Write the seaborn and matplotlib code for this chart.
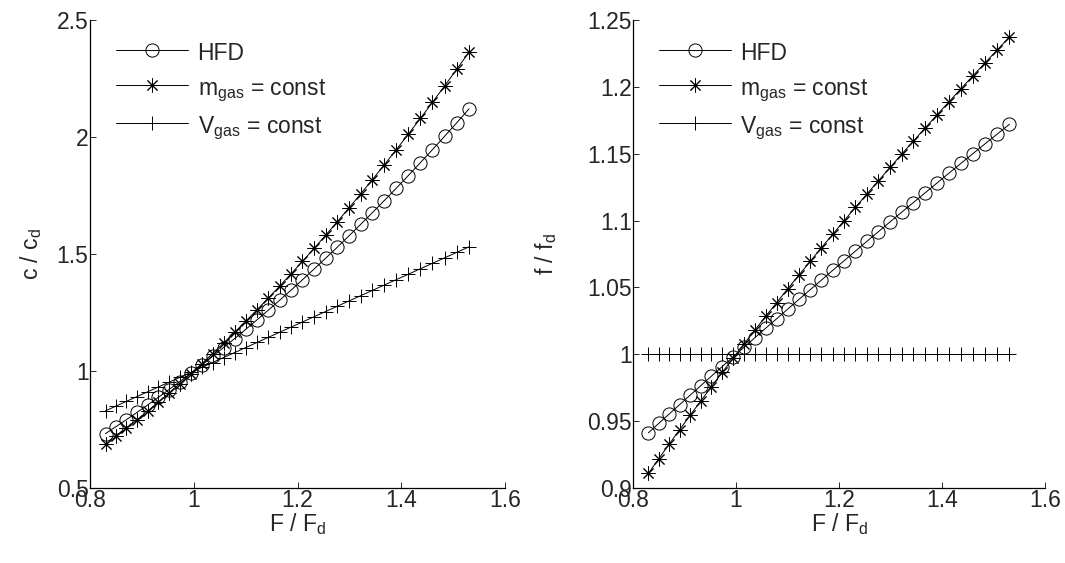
import numpy as np
import pandas as pd
import matplotlib
matplotlib.use('Agg')
import matplotlib.pyplot as plt
import seaborn as sns

# F / F_d sample points (spacing widens a bit to the right)
ratio_F = [0.830, 0.8501, 0.8703, 0.8906, 0.9111, 0.9317, 0.9523, 0.9731, 0.9941,
           1.0151, 1.0362, 1.0575, 1.0789, 1.1004, 1.1220, 1.1437, 1.1655, 1.1875,
           1.2096, 1.2318, 1.2541, 1.2765, 1.2990, 1.3217, 1.3444, 1.3673, 1.3903,
           1.4135, 1.4367, 1.4600, 1.4835, 1.5071, 1.5308]

# left panel: c / c_d
c_hfd = [0.7327, 0.7622, 0.7922, 0.8230, 0.8547, 0.8873, 0.9206, 0.9548, 0.9900,
         1.0258, 1.0627, 1.1004, 1.1388, 1.1783, 1.2187, 1.2600, 1.3023, 1.3456,
         1.3899, 1.4354, 1.4817, 1.5287, 1.5771, 1.6266, 1.6768, 1.7284, 1.7810,
         1.8352, 1.8899, 1.9457, 2.0030, 2.0612, 2.1206]
c_mgas = [0.6864, 0.7204, 0.7553, 0.7914, 0.8286, 0.8669, 0.9060, 0.9464, 0.9881,
          1.0307, 1.0745, 1.1196, 1.1658, 1.2132, 1.2618, 1.3115, 1.3626, 1.4151,
          1.4687, 1.5236, 1.5799, 1.6375, 1.6962, 1.7566, 1.8181, 1.8812, 1.9456,
          2.0118, 2.0791, 2.1477, 2.2182, 2.2900, 2.3633]
c_vgas = [0.830, 0.8501, 0.8703, 0.8906, 0.9111, 0.9317, 0.9523, 0.9731, 0.9941,
          1.0151, 1.0362, 1.0575, 1.0789, 1.1004, 1.1220, 1.1437, 1.1655, 1.1875,
          1.2096, 1.2318, 1.2541, 1.2765, 1.2990, 1.3217, 1.3444, 1.3673, 1.3903,
          1.4135, 1.4367, 1.4600, 1.4835, 1.5071, 1.5308]

# right panel: f / f_d
f_hfd = [0.9413, 0.9484, 0.9554, 0.9624, 0.9695, 0.9766, 0.9837, 0.9908, 0.9980,
         1.0051, 1.0123, 1.0195, 1.0266, 1.0338, 1.0410, 1.0482, 1.0554, 1.0627,
         1.0699, 1.0772, 1.0845, 1.0917, 1.0990, 1.1063, 1.1135, 1.1208, 1.1281,
         1.1355, 1.1428, 1.1501, 1.1574, 1.1647, 1.1720]
f_mgas = [0.9110, 0.9220, 0.9329, 0.9437, 0.9545, 0.9652, 0.9759, 0.9865, 0.9970,
          1.0075, 1.0179, 1.0284, 1.0387, 1.0490, 1.0592, 1.0694, 1.0796, 1.0897,
          1.0998, 1.1099, 1.1199, 1.1298, 1.1397, 1.1497, 1.1595, 1.1693, 1.1791,
          1.1889, 1.1986, 1.2083, 1.2180, 1.2276, 1.2373]
f_vgas = [1.0] * 33

labels = ['HFD', r'm$_{\mathrm{gas}}$ = const', r'V$_{\mathrm{gas}}$ = const']

FS = 16.5

sns.set_style('ticks')
plt.rcParams['font.family'] = ['Liberation Sans', 'DejaVu Sans']
plt.rcParams['mathtext.fontset'] = 'custom'
plt.rcParams['mathtext.rm'] = 'Liberation Sans'
plt.rcParams['mathtext.it'] = 'Liberation Sans'
plt.rcParams['font.size'] = FS
plt.rcParams['xtick.direction'] = 'in'
plt.rcParams['ytick.direction'] = 'in'

fig = plt.figure(figsize=(10.65, 5.63), dpi=100)
ax1 = fig.add_axes([0.0845, 0.1332, 0.3897, 0.8313])
ax2 = fig.add_axes([0.5944, 0.1332, 0.3869, 0.8313])

styles = [dict(marker='o', markersize=9.5, mfc='none'),
          dict(marker=(8, 2, 0), markersize=10),
          dict(marker='+', markersize=10)]


def draw(ax, series):
    for ys, lab, st in zip(series, labels, styles):
        df = pd.DataFrame({'x': ratio_F, 'y': ys})
        sns.lineplot(data=df, x='x', y='y', ax=ax, color='k', lw=0.7,
                     mec='k', mew=0.7, label=lab, sort=False, estimator=None,
                     **st)
    ax.set_xlim(0.8, 1.6)
    ax.set_xticks([0.8, 1.0, 1.2, 1.4, 1.6])
    ax.set_xticklabels(['0.8', '1', '1.2', '1.4', '1.6'])
    ax.tick_params(length=4, width=0.7, labelsize=FS, pad=1)
    for s in ['top', 'right']:
        ax.spines[s].set_visible(False)
    for s in ['left', 'bottom']:
        ax.spines[s].set_linewidth(0.9)
        ax.spines[s].set_color('k')
    ax.set_xlabel(r'F / F$_{\mathrm{d}}$', fontsize=FS, labelpad=-1)
    ax.legend(loc='upper left', bbox_to_anchor=(0.041, 0.978), frameon=False,
              numpoints=1, handlelength=3.15, handletextpad=0.4,
              handleheight=1.4, labelspacing=0.37, fontsize=FS,
              borderaxespad=0)


draw(ax1, [c_hfd, c_mgas, c_vgas])
ax1.set_ylim(0.5, 2.5)
ax1.set_yticks([0.5, 1, 1.5, 2, 2.5])
ax1.set_yticklabels(['0.5', '1', '1.5', '2', '2.5'])
ax1.set_ylabel(r'c / c$_{\mathrm{d}}$', fontsize=FS, labelpad=9)

draw(ax2, [f_hfd, f_mgas, f_vgas])
ax2.set_ylim(0.9, 1.25)
ax2.set_yticks([0.9, 0.95, 1.0, 1.05, 1.1, 1.15, 1.2, 1.25])
ax2.set_yticklabels(['0.9', '0.95', '1', '1.05', '1.1', '1.15', '1.2', '1.25'])
ax2.set_ylabel(r'f / f$_{\mathrm{d}}$', fontsize=FS, labelpad=20)

fig.savefig('out.png', dpi=100)
